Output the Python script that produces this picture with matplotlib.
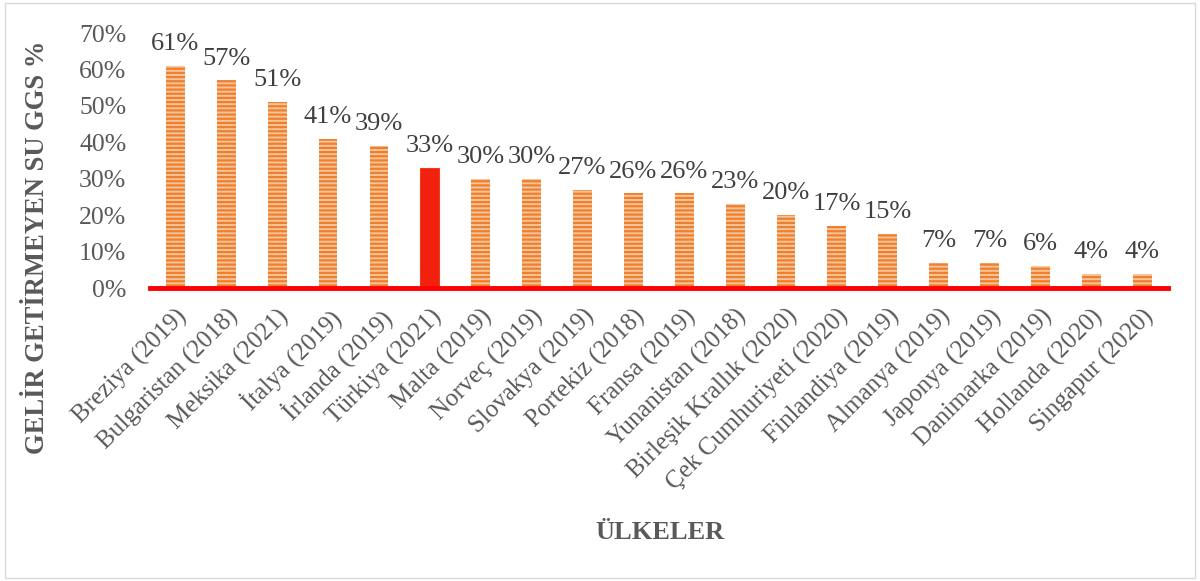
import matplotlib.pyplot as plt
from matplotlib.patches import Rectangle

plt.rcParams['font.family'] = ['Liberation Serif', 'DejaVu Serif']
plt.rcParams['hatch.linewidth'] = 1.6

countries = [
    "Breziya (2019)", "Bulgaristan (2018)", "Meksika (2021)", "İtalya (2019)",
    "İrlanda (2019)", "Türkiya (2021)", "Malta (2019)", "Norveç (2019)",
    "Slovakya (2019)", "Portekiz (2018)", "Fransa (2019)", "Yunanistan (2018)",
    "Birleşik Krallık (2020)", "Çek Cumhuriyeti (2020)", "Finlandiya (2019)",
    "Almanya (2019)", "Japonya (2019)", "Danimarka (2019)", "Hollanda (2020)",
    "Singapur (2020)",
]
values = [61, 57, 51, 41, 39, 33, 30, 30, 27, 26, 26, 23, 20, 17, 15, 7, 7, 6, 4, 4]
highlight = "Türkiya (2021)"
yticks = [0, 10, 20, 30, 40, 50, 60, 70]

grey = '#595959'
fig = plt.figure(figsize=(12, 5.81), dpi=100)
ax = fig.add_axes([0.125, 0.504, 0.848, 0.439])

x = range(len(countries))
for i, (c, v) in enumerate(zip(countries, values)):
    if c == highlight:
        ax.bar(i, v, width=0.37, color='#F2200F', edgecolor='#E8401A', linewidth=0.8, zorder=2)
    else:
        ax.bar(i, v, width=0.37, color='#F8C49A', edgecolor='#EE7F2D', hatch='----',
               linewidth=0, zorder=2)
    ax.text(i, v + 3.0, f"{v}%", ha='center', va='bottom', fontsize=19, color='#404040',
            clip_on=False)

ax.set_xlim(-0.5, len(countries) - 0.5)
ax.set_ylim(0, 70)
ax.set_yticks(yticks)
ax.set_yticklabels([f"{t}%" for t in yticks], fontsize=18.5, color=grey)
ax.set_xticks(list(x))
ax.set_xticklabels(countries, rotation=45, ha='right', rotation_mode='anchor',
                   fontsize=18, color=grey)
ax.tick_params(axis='y', length=0, pad=17)
ax.tick_params(axis='x', length=0, pad=12)

for s in ['top', 'right', 'left']:
    ax.spines[s].set_visible(False)
ax.spines['bottom'].set_color('#FF0000')
ax.spines['bottom'].set_linewidth(3.5)
ax.spines['bottom'].set_zorder(3)

fig.text(0.031, 0.575, "GELİR GETİRMEYEN SU GGS %", rotation=90, ha='center', va='center',
         fontsize=19.2, fontweight='bold', color=grey)
fig.text(0.55, 0.083, "ÜLKELER", ha='center', va='center',
         fontsize=19, fontweight='bold', color=grey)

fig.patches.append(Rectangle((0.004, 0.006), 0.992, 0.988, transform=fig.transFigure,
                             fill=False, edgecolor='#D9D9D9', linewidth=1))

fig.savefig('out.png', dpi=100)
